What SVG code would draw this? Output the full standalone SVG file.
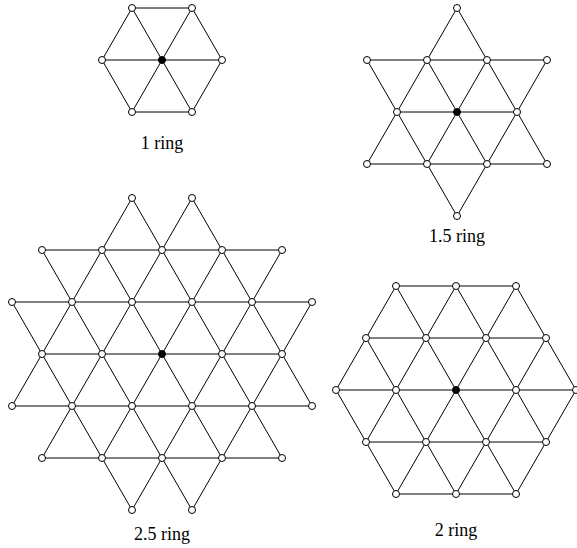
<svg xmlns="http://www.w3.org/2000/svg" width="577" height="548" viewBox="0 0 577 548">
<style>
.e{stroke:#000;stroke-width:1;fill:none}
.n{fill:#fff;stroke:#000;stroke-width:1}
.c{fill:#000;stroke:#000;stroke-width:1}
.t{font-family:"Liberation Serif","Times New Roman",serif;font-size:18px;fill:#000;text-anchor:middle}
</style>
<rect width="577" height="548" fill="#fff"/>
<g id="connectors">
<g id="edges-1ring" class="e">
<line x1="132" y1="8" x2="192" y2="8"/><line x1="102" y1="60" x2="222" y2="60"/><line x1="132" y1="112" x2="192" y2="112"/>
<line x1="102" y1="60" x2="132" y2="8"/><line x1="132" y1="112" x2="192" y2="8"/><line x1="192" y1="112" x2="222" y2="60"/>
<line x1="102" y1="60" x2="132" y2="112"/><line x1="132" y1="8" x2="192" y2="112"/><line x1="192" y1="8" x2="222" y2="60"/>
</g>
<g id="edges-15ring" class="e">
<line x1="367" y1="60" x2="547" y2="60"/><line x1="397" y1="112" x2="517" y2="112"/><line x1="367" y1="164" x2="547" y2="164"/>
<line x1="367" y1="164" x2="457" y2="8"/><line x1="427" y1="164" x2="487" y2="60"/><line x1="457" y1="216" x2="547" y2="60"/>
<line x1="367" y1="60" x2="457" y2="216"/><line x1="427" y1="60" x2="487" y2="164"/><line x1="457" y1="8" x2="547" y2="164"/>
</g>
<g id="edges-25ring" class="e">
<line x1="42" y1="250" x2="282" y2="250"/><line x1="12" y1="302" x2="312" y2="302"/><line x1="42" y1="354" x2="282" y2="354"/><line x1="12" y1="406" x2="312" y2="406"/><line x1="42" y1="458" x2="282" y2="458"/>
<line x1="12" y1="406" x2="132" y2="198"/><line x1="42" y1="458" x2="192" y2="198"/><line x1="102" y1="458" x2="222" y2="250"/><line x1="132" y1="510" x2="282" y2="250"/><line x1="192" y1="510" x2="312" y2="302"/>
<line x1="12" y1="302" x2="132" y2="510"/><line x1="42" y1="250" x2="192" y2="510"/><line x1="102" y1="250" x2="222" y2="458"/><line x1="132" y1="198" x2="282" y2="458"/><line x1="192" y1="198" x2="312" y2="406"/>
</g>
<g id="edges-2ring" class="e">
<line x1="396" y1="286" x2="516" y2="286"/><line x1="366" y1="338" x2="546" y2="338"/><line x1="336" y1="390" x2="576" y2="390"/><line x1="366" y1="442" x2="546" y2="442"/><line x1="396" y1="494" x2="516" y2="494"/>
<line x1="336" y1="390" x2="396" y2="286"/><line x1="366" y1="442" x2="456" y2="286"/><line x1="396" y1="494" x2="516" y2="286"/><line x1="456" y1="494" x2="546" y2="338"/><line x1="516" y1="494" x2="576" y2="390"/>
<line x1="336" y1="390" x2="396" y2="494"/><line x1="366" y1="338" x2="456" y2="494"/><line x1="396" y1="286" x2="516" y2="494"/><line x1="456" y1="286" x2="546" y2="442"/><line x1="516" y1="286" x2="576" y2="390"/>
</g>
</g>
<g id="ring1">
<g id="r1-c"><circle class="c" cx="162" cy="60" r="3.5"/></g>
<g id="r1-a"><circle class="n" cx="132" cy="8" r="3.5"/></g>
<g id="r1-b"><circle class="n" cx="192" cy="8" r="3.5"/></g>
<g id="r1-d"><circle class="n" cx="102" cy="60" r="3.5"/></g>
<g id="r1-e"><circle class="n" cx="222" cy="60" r="3.5"/></g>
<g id="r1-f"><circle class="n" cx="132" cy="112" r="3.5"/></g>
<g id="r1-g"><circle class="n" cx="192" cy="112" r="3.5"/></g>
<text class="t" x="162" y="149">1 ring</text>
</g>
<g id="ring15">
<g id="r15-c"><circle class="c" cx="457" cy="112" r="3.5"/></g>
<g id="r15-1"><circle class="n" cx="457" cy="8" r="3.5"/></g>
<g id="r15-2"><circle class="n" cx="367" cy="60" r="3.5"/></g>
<g id="r15-3"><circle class="n" cx="427" cy="60" r="3.5"/></g>
<g id="r15-4"><circle class="n" cx="487" cy="60" r="3.5"/></g>
<g id="r15-5"><circle class="n" cx="547" cy="60" r="3.5"/></g>
<g id="r15-6"><circle class="n" cx="397" cy="112" r="3.5"/></g>
<g id="r15-7"><circle class="n" cx="517" cy="112" r="3.5"/></g>
<g id="r15-8"><circle class="n" cx="367" cy="164" r="3.5"/></g>
<g id="r15-9"><circle class="n" cx="427" cy="164" r="3.5"/></g>
<g id="r15-10"><circle class="n" cx="487" cy="164" r="3.5"/></g>
<g id="r15-11"><circle class="n" cx="547" cy="164" r="3.5"/></g>
<g id="r15-12"><circle class="n" cx="457" cy="216" r="3.5"/></g>
<text class="t" x="457" y="242">1.5 ring</text>
</g>
<g id="ring25">
<g id="r25-1"><circle class="n" cx="132" cy="198" r="3.5"/></g>
<g id="r25-2"><circle class="n" cx="192" cy="198" r="3.5"/></g>
<g id="r25-3"><circle class="n" cx="42" cy="250" r="3.5"/></g>
<g id="r25-4"><circle class="n" cx="102" cy="250" r="3.5"/></g>
<g id="r25-5"><circle class="n" cx="162" cy="250" r="3.5"/></g>
<g id="r25-6"><circle class="n" cx="222" cy="250" r="3.5"/></g>
<g id="r25-7"><circle class="n" cx="282" cy="250" r="3.5"/></g>
<g id="r25-8"><circle class="n" cx="12" cy="302" r="3.5"/></g>
<g id="r25-9"><circle class="n" cx="72" cy="302" r="3.5"/></g>
<g id="r25-10"><circle class="n" cx="132" cy="302" r="3.5"/></g>
<g id="r25-11"><circle class="n" cx="192" cy="302" r="3.5"/></g>
<g id="r25-12"><circle class="n" cx="252" cy="302" r="3.5"/></g>
<g id="r25-13"><circle class="n" cx="312" cy="302" r="3.5"/></g>
<g id="r25-14"><circle class="n" cx="42" cy="354" r="3.5"/></g>
<g id="r25-15"><circle class="n" cx="102" cy="354" r="3.5"/></g>
<g id="r25-c"><circle class="c" cx="162" cy="354" r="3.5"/></g>
<g id="r25-16"><circle class="n" cx="222" cy="354" r="3.5"/></g>
<g id="r25-17"><circle class="n" cx="282" cy="354" r="3.5"/></g>
<g id="r25-18"><circle class="n" cx="12" cy="406" r="3.5"/></g>
<g id="r25-19"><circle class="n" cx="72" cy="406" r="3.5"/></g>
<g id="r25-20"><circle class="n" cx="132" cy="406" r="3.5"/></g>
<g id="r25-21"><circle class="n" cx="192" cy="406" r="3.5"/></g>
<g id="r25-22"><circle class="n" cx="252" cy="406" r="3.5"/></g>
<g id="r25-23"><circle class="n" cx="312" cy="406" r="3.5"/></g>
<g id="r25-24"><circle class="n" cx="42" cy="458" r="3.5"/></g>
<g id="r25-25"><circle class="n" cx="102" cy="458" r="3.5"/></g>
<g id="r25-26"><circle class="n" cx="162" cy="458" r="3.5"/></g>
<g id="r25-27"><circle class="n" cx="222" cy="458" r="3.5"/></g>
<g id="r25-28"><circle class="n" cx="282" cy="458" r="3.5"/></g>
<g id="r25-29"><circle class="n" cx="132" cy="510" r="3.5"/></g>
<g id="r25-30"><circle class="n" cx="192" cy="510" r="3.5"/></g>
<text class="t" x="162" y="540">2.5 ring</text>
</g>
<g id="ring2">
<g id="r2-1"><circle class="n" cx="396" cy="286" r="3.5"/></g>
<g id="r2-2"><circle class="n" cx="456" cy="286" r="3.5"/></g>
<g id="r2-3"><circle class="n" cx="516" cy="286" r="3.5"/></g>
<g id="r2-4"><circle class="n" cx="366" cy="338" r="3.5"/></g>
<g id="r2-5"><circle class="n" cx="426" cy="338" r="3.5"/></g>
<g id="r2-6"><circle class="n" cx="486" cy="338" r="3.5"/></g>
<g id="r2-7"><circle class="n" cx="546" cy="338" r="3.5"/></g>
<g id="r2-8"><circle class="n" cx="336" cy="390" r="3.5"/></g>
<g id="r2-9"><circle class="n" cx="396" cy="390" r="3.5"/></g>
<g id="r2-c"><circle class="c" cx="456" cy="390" r="3.5"/></g>
<g id="r2-10"><circle class="n" cx="516" cy="390" r="3.5"/></g>
<g id="r2-11"><circle class="n" cx="576" cy="390" r="3.5"/></g>
<g id="r2-12"><circle class="n" cx="366" cy="442" r="3.5"/></g>
<g id="r2-13"><circle class="n" cx="426" cy="442" r="3.5"/></g>
<g id="r2-14"><circle class="n" cx="486" cy="442" r="3.5"/></g>
<g id="r2-15"><circle class="n" cx="546" cy="442" r="3.5"/></g>
<g id="r2-16"><circle class="n" cx="396" cy="494" r="3.5"/></g>
<g id="r2-17"><circle class="n" cx="456" cy="494" r="3.5"/></g>
<g id="r2-18"><circle class="n" cx="516" cy="494" r="3.5"/></g>
<text class="t" x="456" y="536">2 ring</text>
</g>
</svg>
